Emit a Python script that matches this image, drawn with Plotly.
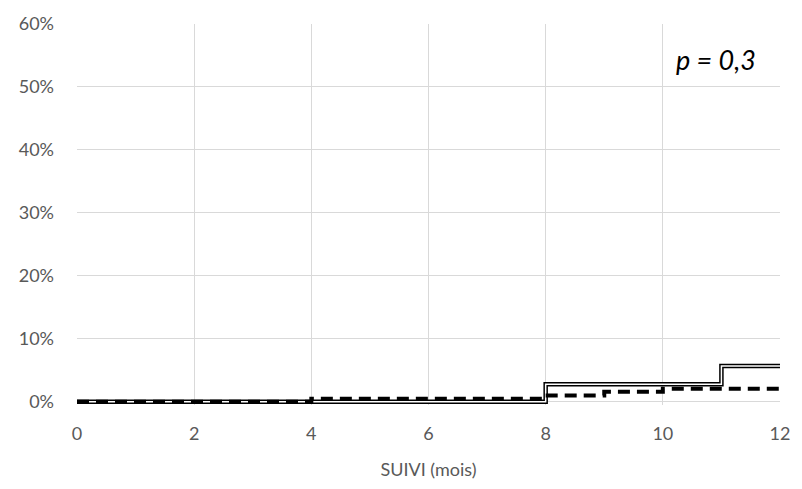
import plotly.graph_objects as go

# Data
months_solid = [0, 8, 11, 12]
rate_solid = [0.0, 0.028, 0.057, 0.057]
months_dashed = [0, 4, 8, 9, 10, 12]
rate_dashed = [0.0, 0.005, 0.010, 0.016, 0.021, 0.021]
x_ticks = [0, 2, 4, 6, 8, 10, 12]
y_ticks = [0, 0.1, 0.2, 0.3, 0.4, 0.5, 0.6]

fig = go.Figure()
fig.add_trace(go.Scatter(x=months_solid, y=rate_solid, mode="lines", line_shape="hv",
                         line=dict(color="black", width=4.5), showlegend=False))
fig.add_trace(go.Scatter(x=months_solid, y=rate_solid, mode="lines", line_shape="hv",
                         line=dict(color="white", width=1.5), showlegend=False))
fig.add_trace(go.Scatter(x=months_dashed, y=rate_dashed, mode="lines", line_shape="hv",
                         line=dict(color="black", width=4, dash="12px,7px"), showlegend=False))

font = dict(family="Lato, Open Sans, sans-serif", size=18, color="#595959")
fig.update_layout(
    width=802, height=489,
    margin=dict(l=77, r=18, t=19, b=82),
    plot_bgcolor="white", paper_bgcolor="white",
    font=font,
    xaxis=dict(range=[0, 12], tickvals=x_ticks, showgrid=True, gridcolor="#d9d9d9", gridwidth=1,
               zeroline=False, showline=False, ticks="", ticklabelstandoff=16,
               title=dict(text="SUIVI (mois)", font=dict(family="Lato, Open Sans, sans-serif", size=18, color="#595959"), standoff=20)),
    yaxis=dict(range=[-0.005, 0.6], tickvals=y_ticks, tickformat=".0%", showgrid=True, gridcolor="#d9d9d9",
               gridwidth=1, zeroline=False, showline=False, ticks="", ticklabelstandoff=22),
    annotations=[dict(x=10.9, y=0.544, xref="x", yref="y", text="<i>p = 0,3</i>", showarrow=False,
                      font=dict(family="Lato, Open Sans, sans-serif", size=27, color="black"))],
)
fig.write_html("out.html")
